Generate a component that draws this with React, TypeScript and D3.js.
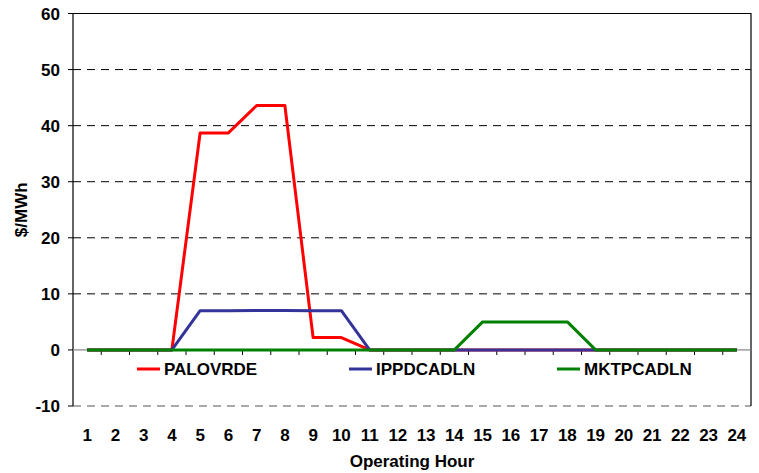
import { useEffect, useRef } from "react";
import * as d3 from "d3";

// Hours on the x axis
const hours = d3.range(1, 25).map(String);

// $/MWh per operating hour
const palovrde = [0, 0, 0, 0, 38.7, 38.7, 43.6, 43.6, 2.2, 2.2, 0, 0, 0, 0, 0, 0, 0, 0, 0, 0, 0, 0, 0, 0];
const ippdcadln = [0, 0, 0, 0, 7.0, 7.0, 7.05, 7.05, 7.0, 7.0, 0, 0, 0, 0, 0, 0, 0, 0, 0, 0, 0, 0, 0, 0];
const mktpcadln = [0, 0, 0, 0, 0, 0, 0, 0, 0, 0, 0, 0, 0, 0, 5, 5, 5, 5, 0, 0, 0, 0, 0, 0];

const seriesNames = ["PALOVRDE", "IPPDCADLN", "MKTPCADLN"];
const seriesColors = ["#ff0000", "#333399", "#008000"];
const yTicks = [-10, 0, 10, 20, 30, 40, 50, 60];

const width = 759;
const height = 473;
const font = "'Liberation Sans', Arial, sans-serif";
const fontSize = 17;

export default function App() {
  const svgRef = useRef<SVGSVGElement>(null);

  useEffect(() => {
    if (!svgRef.current) return;
    const svg = d3.select(svgRef.current);
    svg.selectAll("*").remove();

    const left = 73;
    const right = 751;
    const top = 13.5;
    const bottom = 406;

    const x = d3.scaleBand<string>().domain(hours).range([left, right]);
    const y = d3.scaleLinear().domain([-10, 60]).range([bottom, top]);
    const cx = (h: string) => (x(h) ?? 0) + x.bandwidth() / 2;

    // dashed gridlines
    svg
      .append("g")
      .selectAll("line")
      .data(yTicks.filter((t) => t !== 0 && t !== 60))
      .join("line")
      .attr("x1", left)
      .attr("x2", right)
      .attr("y1", (d) => y(d))
      .attr("y2", (d) => y(d))
      .attr("stroke", (d) => (d === -10 ? "#555" : "#000"))
      .attr("stroke-width", 1)
      .attr("stroke-dasharray", "8,6");

    // plot border (top, right, left)
    svg
      .append("path")
      .attr("d", `M${left},${bottom}V${top}H${right}V${bottom}`)
      .attr("fill", "none")
      .attr("stroke", "#000")
      .attr("stroke-width", 1.2);

    // y axis ticks + labels
    const yAxis = svg.append("g");
    yAxis
      .selectAll("line")
      .data(yTicks)
      .join("line")
      .attr("x1", left - 5)
      .attr("x2", left)
      .attr("y1", (d) => y(d))
      .attr("y2", (d) => y(d))
      .attr("stroke", "#000");
    yAxis
      .selectAll("text")
      .data(yTicks)
      .join("text")
      .attr("x", left - 13)
      .attr("y", (d) => y(d))
      .attr("dy", "0.36em")
      .attr("text-anchor", "end")
      .attr("font-family", font)
      .attr("font-weight", "bold")
      .attr("font-size", fontSize)
      .attr("fill", "#000")
      .text((d) => d);

    // zero axis line with tick marks
    svg
      .append("line")
      .attr("x1", left)
      .attr("x2", right)
      .attr("y1", y(0))
      .attr("y2", y(0))
      .attr("stroke", "#888")
      .attr("stroke-width", 1.2);
    svg
      .append("g")
      .selectAll("line")
      .data(hours.slice(1))
      .join("line")
      .attr("x1", (d) => x(d) ?? 0)
      .attr("x2", (d) => x(d) ?? 0)
      .attr("y1", y(0))
      .attr("y2", y(0) + 5)
      .attr("stroke", "#000");

    // x labels
    svg
      .append("g")
      .selectAll("text")
      .data(hours)
      .join("text")
      .attr("x", cx)
      .attr("y", 441)
      .attr("text-anchor", "middle")
      .attr("font-family", font)
      .attr("font-weight", "bold")
      .attr("font-size", fontSize)
      .attr("fill", "#000")
      .text((d) => d);

    svg
      .append("text")
      .attr("x", (left + right) / 2)
      .attr("y", 467)
      .attr("text-anchor", "middle")
      .attr("font-family", font)
      .attr("font-weight", "bold")
      .attr("font-size", fontSize)
      .text("Operating Hour");

    svg
      .append("text")
      .attr("transform", `translate(27,${(top + bottom) / 2}) rotate(-90)`)
      .attr("text-anchor", "middle")
      .attr("font-family", font)
      .attr("font-weight", "bold")
      .attr("font-size", fontSize)
      .text("$/MWh");

    // series lines
    const line = d3
      .line<number>()
      .x((_, i) => cx(hours[i]))
      .y((d) => y(d));
    [palovrde, ippdcadln, mktpcadln].forEach((vals, i) => {
      svg
        .append("path")
        .datum(vals)
        .attr("d", line)
        .attr("fill", "none")
        .attr("stroke", seriesColors[i])
        .attr("stroke-width", 3)
        .attr("stroke-linejoin", "round");
    });

    // legend
    const legendX = [137, 349, 557];
    const legendY = 369;
    const legend = svg.append("g");
    seriesNames.forEach((name, i) => {
      legend
        .append("line")
        .attr("x1", legendX[i])
        .attr("x2", legendX[i] + 23)
        .attr("y1", legendY)
        .attr("y2", legendY)
        .attr("stroke", seriesColors[i])
        .attr("stroke-width", 3);
      legend
        .append("text")
        .attr("x", legendX[i] + 27)
        .attr("y", legendY)
        .attr("dy", "0.36em")
        .attr("font-family", font)
        .attr("font-size", fontSize)
        .attr("font-weight", "bold")
        .attr("fill", "#000")
        .text(name);
    });
  }, []);

  return (
    <svg
      ref={svgRef}
      width={width}
      height={height}
      style={{ position: "absolute", left: 0, top: 0, background: "#fff" }}
    />
  );
}
